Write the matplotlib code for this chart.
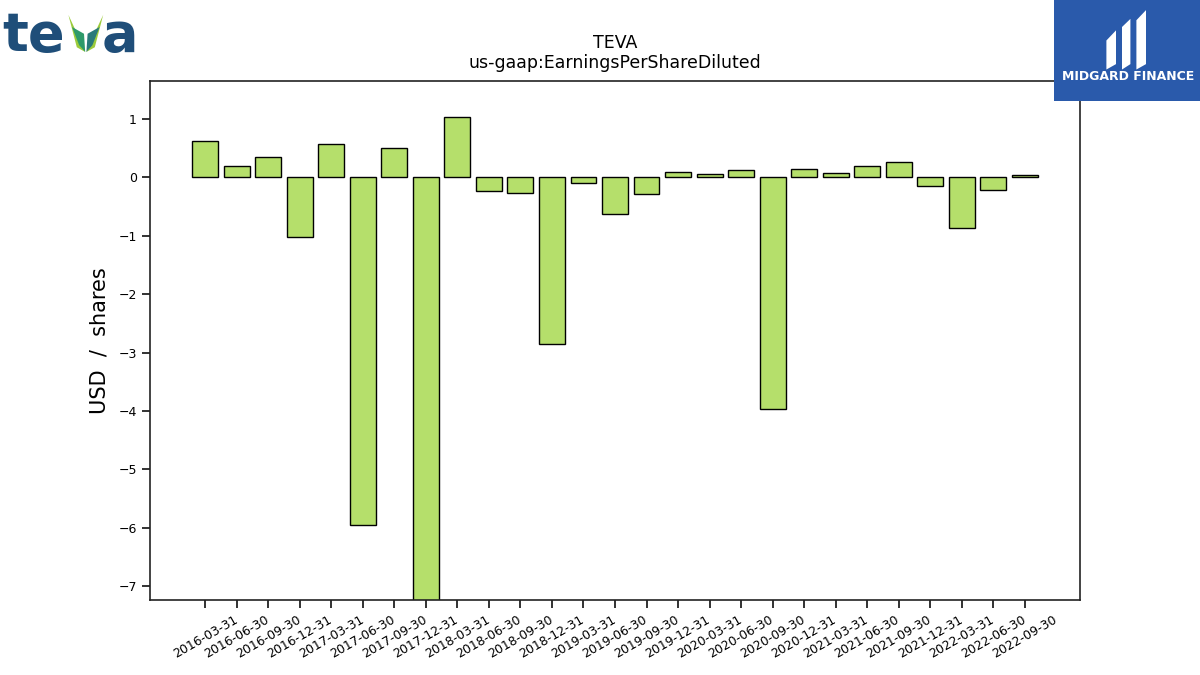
import matplotlib.pyplot as plt
from matplotlib.patches import Rectangle, Polygon

dates = ["2016-03-31", "2016-06-30", "2016-09-30", "2016-12-31",
         "2017-03-31", "2017-06-30", "2017-09-30", "2017-12-31",
         "2018-03-31", "2018-06-30", "2018-09-30", "2018-12-31",
         "2019-03-31", "2019-06-30", "2019-09-30", "2019-12-31",
         "2020-03-31", "2020-06-30", "2020-09-30", "2020-12-31",
         "2021-03-31", "2021-06-30", "2021-09-30", "2021-12-31",
         "2022-03-31", "2022-06-30", "2022-09-30"]
eps = [0.62, 0.19, 0.34, -1.03,
       0.57, -5.95, 0.51, -7.64,
       1.03, -0.24, -0.27, -2.86,
       -0.10, -0.63, -0.29, 0.09,
       0.05, 0.12, -3.97, 0.14,
       0.07, 0.19, 0.26, -0.15,
       -0.87, -0.22, 0.04]

fig = plt.figure(figsize=(12, 6.75), dpi=100)
ax = fig.add_axes([0.125, 0.111, 0.775, 0.769])

x = list(range(len(dates)))
ax.bar(x, eps, width=0.82, color="#b5df6b", edgecolor="black", linewidth=1.0)

ax.set_xlim(-1.75, 27.75)
ax.set_ylim(-7.24, 1.65)
ax.set_xticks(x)
ax.set_xticklabels(dates, rotation=30, ha="center", fontsize=9)
ax.tick_params(axis="y", labelsize=9)
ax.tick_params(direction="out", length=6, width=1.3, color="#222222")
for s in ax.spines.values():
    s.set_linewidth(1.2)
    s.set_color("#222222")

ax.set_title("TEVA\nus-gaap:EarningsPerShareDiluted", fontsize=12.5, pad=9)
ax.set_ylabel("USD  /  shares", fontsize=15, labelpad=6.5)

# teva logo (approximation)
fig.text(0.002, 0.924, "te", fontsize=39, fontweight="bold", color="#1f4e79",
         ha="left", va="baseline")
fig.text(0.085, 0.924, "a", fontsize=39, fontweight="bold", color="#1f4e79",
         ha="left", va="baseline")
leaves = [
    ([(0.057, 0.978), (0.064, 0.930), (0.071, 0.923), (0.063, 0.955)], "#9ccb3b"),
    ([(0.060, 0.960), (0.066, 0.933), (0.071, 0.923), (0.070, 0.950)], "#2e9a6a"),
    ([(0.086, 0.978), (0.079, 0.930), (0.072, 0.923), (0.080, 0.955)], "#9ccb3b"),
    ([(0.083, 0.960), (0.077, 0.933), (0.072, 0.923), (0.073, 0.950)], "#2a7a7a"),
]
for pts, c in leaves:
    fig.add_artist(Polygon(pts, closed=True, transform=fig.transFigure,
                           facecolor=c, edgecolor="none"))

# Midgard Finance logo (approximation)
fig.add_artist(Rectangle((0.878, 0.850), 0.122, 0.150, transform=fig.transFigure,
                         facecolor="#2a5aab", edgecolor="none"))
fig.text(0.940, 0.887, "MIDGARD FINANCE", fontsize=9, fontweight="bold",
         color="white", ha="center", va="center")
shapes = [
    [(0.922, 0.897), (0.922, 0.940), (0.930, 0.955), (0.930, 0.905)],
    [(0.935, 0.897), (0.935, 0.960), (0.942, 0.972), (0.942, 0.905)],
    [(0.947, 0.897), (0.947, 0.970), (0.955, 0.985), (0.955, 0.905)],
]
for pts in shapes:
    fig.add_artist(Polygon(pts, closed=True, transform=fig.transFigure,
                           facecolor="white", edgecolor="none"))

fig.savefig("out.png", dpi=100)
